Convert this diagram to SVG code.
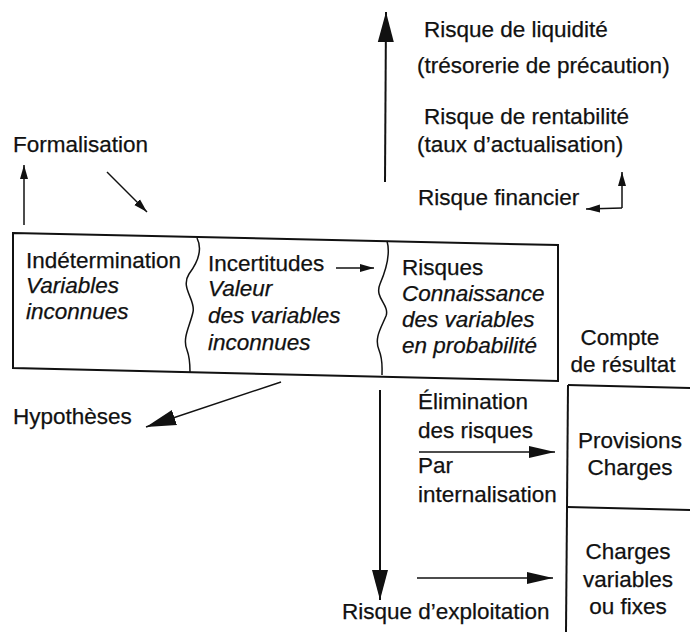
<svg xmlns="http://www.w3.org/2000/svg" width="690" height="632" viewBox="0 0 690 632">
  <style>
    text { font-family: "Liberation Sans", Arial, sans-serif; font-size: 22.5px; fill: #111; stroke: #111; stroke-width: 0.25; }
    .it { font-style: italic; }
    .mid { text-anchor: middle; }
    .ln { fill: none; stroke: #111; stroke-width: 2; }
    .thin { fill: none; stroke: #111; stroke-width: 1.5; }
  </style>
  <defs>
    <marker id="headBig" markerUnits="userSpaceOnUse" markerWidth="32" markerHeight="18" refX="30" refY="9" orient="auto">
      <path d="M0,1 L30,9 L0,17 Z" fill="#111"/>
    </marker>
    <marker id="headMed" markerUnits="userSpaceOnUse" markerWidth="28" markerHeight="14" refX="26" refY="7" orient="auto">
      <path d="M0,1 L26,7 L0,13 Z" fill="#111"/>
    </marker>
    <marker id="headSmall" markerUnits="userSpaceOnUse" markerWidth="16" markerHeight="10" refX="14" refY="5" orient="auto">
      <path d="M0,1 L14,5 L0,9 Z" fill="#111"/>
    </marker>
  </defs>

  <!-- central box with three wavy-separated zones -->
  <g id="box">
    <path class="ln" d="M13,233 L558,245 L558,381 L13,368 Z"/>
    <path class="thin" d="M197,238 C203,250 198,262 189,274 C180,288 196,300 193,312 C190,326 182,338 187,350 C190,358 190,364 190,372"/>
    <path class="thin" d="M387,241 C391,255 386,270 380,284 C374,298 390,305 386,316 C381,328 374,338 379,350 C383,360 382,366 382,375"/>
  </g>

  <g id="indetermination">
    <text x="26" y="268">Indétermination</text>
    <text class="it" x="26" y="293">Variables</text>
    <text class="it" x="26" y="319">inconnues</text>
  </g>

  <g id="incertitudes">
    <text x="208" y="271">Incertitudes</text>
    <text class="it" x="208" y="296">Valeur</text>
    <text class="it" x="208" y="323">des variables</text>
    <text class="it" x="208" y="350">inconnues</text>
  </g>

  <g id="risques">
    <text x="402" y="275">Risques</text>
    <text class="it" x="402" y="301">Connaissance</text>
    <text class="it" x="402" y="327">des variables</text>
    <text class="it" x="402" y="353">en probabilité</text>
  </g>

  <g id="formalisation">
    <text x="13" y="152">Formalisation</text>
  </g>

  <g id="hypotheses">
    <text x="13" y="424">Hypothèses</text>
  </g>

  <g id="risque-financier">
    <text x="424" y="37">Risque de liquidité</text>
    <text x="417" y="73">(trésorerie de précaution)</text>
    <text x="424" y="124">Risque de rentabilité</text>
    <text x="417" y="152">(taux d’actualisation)</text>
    <text x="418" y="205">Risque financier</text>
  </g>

  <g id="elimination">
    <text x="418" y="409">Élimination</text>
    <text x="418" y="438">des risques</text>
    <text x="418" y="473">Par</text>
    <text x="418" y="502">internalisation</text>
  </g>

  <g id="risque-exploitation">
    <text x="342" y="619">Risque d’exploitation</text>
  </g>

  <!-- income statement column -->
  <g id="compte-resultat">
    <text class="mid" x="620" y="345">Compte</text>
    <text class="mid" x="623" y="372">de résultat</text>
    <path class="ln" d="M568,385 L690,388"/>
    <path class="ln" d="M568,385 L566,632"/>
    <path class="ln" d="M567,507 L690,510"/>
    <text class="mid" x="630" y="448">Provisions</text>
    <text class="mid" x="630" y="475">Charges</text>
    <text class="mid" x="628" y="559">Charges</text>
    <text class="mid" x="628" y="587">variables</text>
    <text class="mid" x="628" y="614">ou fixes</text>
  </g>

  <!-- connectors -->
  <g id="connectors">
    <path class="ln" d="M385,182 L386,12" marker-end="url(#headBig)"/>
    <path class="thin" d="M622,208 L622,172" marker-end="url(#headSmall)"/>
    <path class="thin" d="M622,208 L586,209" marker-end="url(#headSmall)"/>
    <path class="thin" d="M24,225 L24,165" marker-end="url(#headSmall)"/>
    <path class="thin" d="M107,172 L147,212" marker-end="url(#headSmall)"/>
    <path class="thin" d="M336,268 L374,268" marker-end="url(#headSmall)"/>
    <path class="thin" d="M281,382 L146,427" marker-end="url(#headBig)"/>
    <path class="ln" d="M380,390 L380,600" marker-end="url(#headBig)"/>
    <path class="thin" d="M419,452 L555,452" marker-end="url(#headMed)"/>
    <path class="thin" d="M417,578 L553,578" marker-end="url(#headMed)"/>
  </g>
</svg>
